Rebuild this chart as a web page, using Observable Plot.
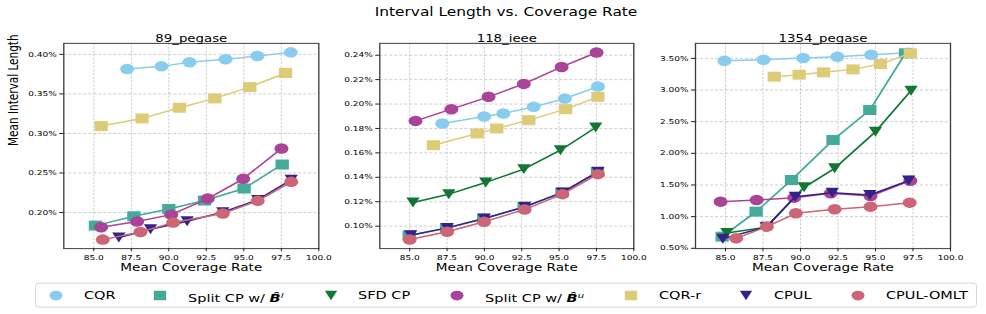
<!DOCTYPE html>
<html><head><meta charset="utf-8">
<script src="https://cdn.jsdelivr.net/npm/d3@7"></script>
<script src="https://cdn.jsdelivr.net/npm/@observablehq/plot@0.6"></script>
<style>
body{margin:0;background:#fff;overflow:hidden;font-family:"DejaVu Sans",sans-serif;}
#fig{position:relative;width:986px;height:419px;transform:scaleY(0.75);transform-origin:0 0;background:#fff;}
.panel{position:absolute;top:30px;}
#title{position:absolute;top:6px;left:506px;transform:translateX(-50%);font-size:15.4px;line-height:20px;white-space:nowrap;color:#000;}
#legend{position:absolute;left:35px;top:377px;width:942px;height:33px;border:1px solid #cfcfcf;border-radius:4px;box-sizing:border-box;}
.lg{position:absolute;top:0;height:31px;line-height:31px;font-size:14.5px;white-space:nowrap;color:#000;}
.lm{position:absolute;top:8px;}
</style></head><body>
<div id="fig">
  <div id="title">Interval Length vs. Coverage Rate</div>
  <div id="p1" class="panel" style="left:0px"></div>
  <div id="p2" class="panel" style="left:320px"></div>
  <div id="p3" class="panel" style="left:640px"></div>
  <div id="legend"></div>
</div>
<script>
// ---- data (mean coverage rate %, mean interval length %) ----
const methods = ["CQR", "Split CP w/ B^l", "SFD CP", "Split CP w/ B^u", "CQR-r", "CPUL", "CPUL-OMLT"];
const colors  = ["#88CCEE", "#44AA99", "#117733", "#AA4499", "#DDCC77", "#332288", "#CC6677"];
const shapes  = ["circle", "square", "tri", "circle", "square", "tri", "circle"];

const xTicks = [85, 87.5, 90, 92.5, 95, 97.5, 100];
const yTicks89 = [0.20, 0.25, 0.30, 0.35, 0.40];
const yTicks118 = [0.10, 0.12, 0.14, 0.16, 0.18, 0.20, 0.22, 0.24];
const yTicks1354 = [0.5, 1.0, 1.5, 2.0, 2.5, 3.0, 3.5];

// 89_pegase
const p89_CQR    = [[87.22,0.3814],[89.51,0.3848],[91.38,0.3899],[93.78,0.3937],[95.91,0.3979],[98.13,0.4025]];
const p89_SplitL = [[85.11,0.1835],[87.67,0.1953],[90.00,0.2046],[92.38,0.2152],[95.02,0.2304],[97.56,0.2607]];
const p89_SFD    = [];
const p89_SplitU = [[85.49,0.1814],[87.89,0.1886],[90.16,0.1974],[92.60,0.2177],[94.96,0.2426],[97.51,0.2810]];
const p89_CQRr   = [[85.49,0.3093],[88.22,0.3190],[90.71,0.3325],[93.07,0.3443],[95.40,0.3586],[97.78,0.3764]];
const p89_CPUL   = [[86.67,0.1684],[88.78,0.1789],[91.22,0.1890],[93.60,0.2005],[95.93,0.2160],[98.16,0.2415]];
const p89_OMLT   = [[85.60,0.1658],[88.11,0.1755],[90.29,0.1873],[93.60,0.1987],[95.93,0.2148],[98.16,0.2388]];

// 118_ieee
const p118_CQR    = [[87.18,0.1841],[89.98,0.1898],[91.27,0.1922],[93.30,0.1977],[95.39,0.2045],[97.60,0.2143]];
const p118_SplitL = [[84.97,0.0924],[87.47,0.0984],[89.95,0.1061],[92.66,0.1156],[95.19,0.1274],[97.57,0.1443]];
const p118_SFD    = [[85.22,0.1194],[87.62,0.1262],[90.09,0.1358],[92.64,0.1467],[95.09,0.1622],[97.45,0.1808]];
const p118_SplitU = [[85.39,0.1862],[87.79,0.1958],[90.28,0.2059],[92.64,0.2165],[95.17,0.2304],[97.51,0.2422]];
const p118_CQRr   = [[86.59,0.1663],[89.52,0.1759],[90.83,0.1800],[92.97,0.1868],[95.44,0.1958],[97.60,0.2059]];
const p118_CPUL   = [[85.07,0.0926],[87.51,0.0986],[89.98,0.1063],[92.69,0.1158],[95.22,0.1276],[97.60,0.1445]];
const p118_OMLT   = [[85.00,0.0891],[87.51,0.0954],[89.98,0.1036],[92.69,0.1136],[95.22,0.1262],[97.60,0.1426]];

// 1354_pegase
const p1354_CQR    = [[84.93,3.463],[87.54,3.479],[90.18,3.505],[92.46,3.526],[94.71,3.558],[97.21,3.589]];
const p1354_SplitL = [[84.78,0.684],[87.04,1.079],[89.40,1.579],[92.17,2.211],[94.62,2.684],[97.00,3.580]];
const p1354_SFD    = [[85.09,0.742],[87.70,0.832],[90.24,1.463],[92.28,1.763],[95.00,2.342],[97.37,2.989]];
const p1354_SplitU = [[84.67,1.237],[87.08,1.263],[89.58,1.300],[92.01,1.368],[94.67,1.326],[97.32,1.568]];
const p1354_CQRr   = [[88.25,3.211],[89.91,3.242],[91.53,3.279],[93.50,3.326],[95.33,3.410],[97.32,3.579]];
const p1354_CPUL   = [[84.82,0.650],[87.76,0.842],[89.65,1.316],[92.12,1.379],[94.62,1.342],[97.21,1.570]];
const p1354_OMLT   = [[85.71,0.658],[87.76,0.842],[89.69,1.053],[92.28,1.116],[94.67,1.158],[97.28,1.221]];

// ---- symbols ----
const squareSym = {draw(ctx, size){ const r = Math.sqrt(size/Math.PI), h = 0.95*r; ctx.moveTo(-h,-h); ctx.lineTo(h,-h); ctx.lineTo(h,h); ctx.lineTo(-h,h); ctx.closePath(); }};
const triDownSym = {draw(ctx, size){ const r = Math.sqrt(size/Math.PI), a = 0.95*r; ctx.moveTo(-a,-a); ctx.lineTo(a,-a); ctx.lineTo(0,a); ctx.closePath(); }};
const symFor = s => s === "square" ? squareSym : s === "tri" ? triDownSym : "circle";

function panel(el, {title, series, yDomain, yTicks, width, ml, mr, ylabel}) {
  const marks = [
    Plot.gridX(xTicks, {stroke:"#b8b8b8", strokeOpacity:1, strokeWidth:0.8, strokeDasharray:"3,2"}),
    Plot.gridY(yTicks, {stroke:"#b8b8b8", strokeOpacity:1, strokeWidth:0.8, strokeDasharray:"3,2"})
  ];
  series.forEach((data, i) => {
    if (!data.length) return;
    marks.push(Plot.line(data, {x: d => d[0], y: d => d[1], stroke: colors[i], strokeWidth: 2}));
    marks.push(Plot.dot(data, {x: d => d[0], y: d => d[1], r: 7, symbol: symFor(shapes[i]), fill: colors[i], stroke: "none"}));
  });
  marks.push(
    Plot.frame({stroke:"#3a3a3a", strokeWidth:1.3}),
    Plot.axisX({ticks: xTicks, tickFormat: d => d.toFixed(1), tickSize: 4, tickPadding: 5, label: null, fontSize: 9}),
    Plot.axisY({ticks: yTicks, tickFormat: d => d.toFixed(2) + "%", tickSize: 4, tickPadding: 3, label: null, fontSize: 9}),
    Plot.text([title], {text: d => d, frameAnchor: "top", dy: -10.6, fontSize: 13.3, fill: "#000"}),
    Plot.text(["Mean Coverage Rate"], {text: d => d, frameAnchor: "bottom", dy: 30, fontSize: 13.6, fill: "#000"})
  );
  if (ylabel) marks.push(Plot.text([ylabel], {text: d => d, frameAnchor: "left", dx: -50, rotate: -90, fontSize: 14, fill: "#000"}));
  const chart = Plot.plot({
    width, height: 340,
    marginLeft: ml, marginRight: mr, marginTop: 27.3, marginBottom: 39,
    x: {domain: [83, 100]},
    y: {domain: yDomain},
    style: {fontFamily: "DejaVu Sans", fontSize: "9px", background: "transparent", overflow: "visible", color: "#000"},
    marks
  });
  el.appendChild(chart);
}

panel(document.getElementById("p1"), {
  title: "89_pegase", ylabel: "Mean Interval Length",
  series: [p89_CQR, p89_SplitL, p89_SFD, p89_SplitU, p89_CQRr, p89_CPUL, p89_OMLT],
  yDomain: [0.1544, 0.4139], yTicks: yTicks89, width: 330, ml: 63.3, mr: 11.7
});
panel(document.getElementById("p2"), {
  title: "118_ieee",
  series: [p118_CQR, p118_SplitL, p118_SFD, p118_SplitU, p118_CQRr, p118_CPUL, p118_OMLT],
  yDomain: [0.0816, 0.2497], yTicks: yTicks118, width: 325, ml: 59.3, mr: 11.7
});
panel(document.getElementById("p3"), {
  title: "1354_pegase",
  series: [p1354_CQR, p1354_SplitL, p1354_SFD, p1354_SplitU, p1354_CQRr, p1354_CPUL, p1354_OMLT],
  yDomain: [0.495, 3.737], yTicks: yTicks1354, width: 330, ml: 55, mr: 20
});

// ---- legend ----
const legendLabels = ["CQR", "Split CP w/ <b><i>B&#770;</i></b><sup style='font-size:10px'><i>l</i></sup>", "SFD CP",
  "Split CP w/ <b><i>B&#770;</i></b><sup style='font-size:10px'><i>u</i></sup>", "CQR-r", "CPUL", "CPUL-OMLT"];
const markerX = [56, 160, 331, 457, 631, 746, 858];
const labelX  = [84, 188, 358, 485, 659, 774, 886];
const lg = document.getElementById("legend");
methods.forEach((m, i) => {
  const s = 16;
  const mk = document.createElementNS("http://www.w3.org/2000/svg", "svg");
  mk.setAttribute("width", s); mk.setAttribute("height", s);
  mk.setAttribute("class", "lm");
  mk.style.left = (markerX[i] - 36 - s/2) + "px";
  const p = d3.path();
  const r = 6.5;
  if (shapes[i] === "circle") { p.arc(0, 0, r, 0, 2*Math.PI); }
  else (shapes[i] === "square" ? squareSym : triDownSym).draw(p, Math.PI*r*r);
  const path = document.createElementNS("http://www.w3.org/2000/svg", "path");
  path.setAttribute("d", p.toString());
  path.setAttribute("transform", `translate(${s/2},${s/2})`);
  path.setAttribute("fill", colors[i]);
  mk.appendChild(path);
  lg.appendChild(mk);
  const t = document.createElement("span");
  t.className = "lg";
  t.style.left = (labelX[i] - 36) + "px";
  t.innerHTML = legendLabels[i];
  lg.appendChild(t);
});
</script>
</body></html>
